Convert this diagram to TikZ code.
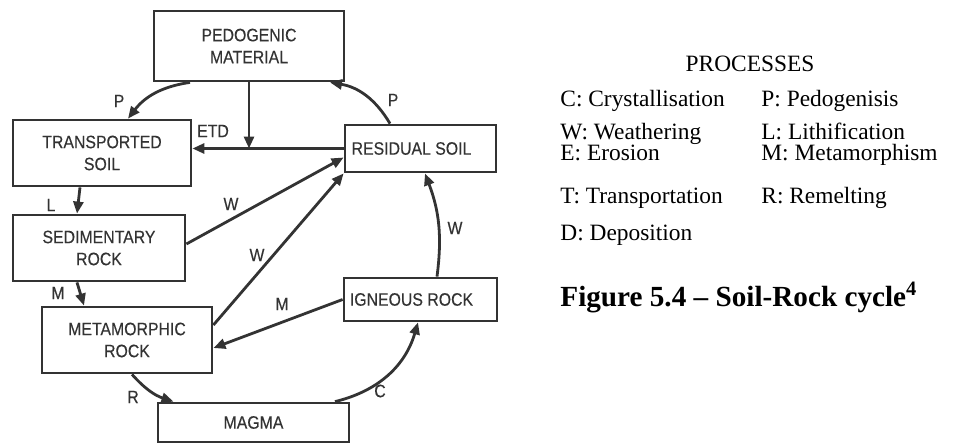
\documentclass[tikz,border=0pt]{standalone}
\usepackage{fontspec}
\setmainfont{Liberation Serif}
\newfontfamily\boxfont{Liberation Sans}[FakeStretch=0.88, FakeBold=0.3]
\usetikzlibrary{arrows.meta, calc}
\definecolor{inkgray}{gray}{0.2}

\begin{document}
\begin{tikzpicture}[x=0.5pt, y=-0.5pt,
    box/.style={draw=inkgray, line width=1.4pt, align=center, text=inkgray, font=\boxfont\fontsize{9}{11}\selectfont, inner sep=0pt},
    flow/.style={draw=inkgray, line width=1.4pt, -{Triangle[length=6pt, width=5pt]}},
    lbl/.style={text=inkgray, font=\boxfont\fontsize{9}{10}\selectfont, inner sep=0pt},
    legend/.style={anchor=base west, font=\fontsize{11.7}{14}\selectfont, inner sep=0pt}]
    \useasboundingbox (0,0) rectangle (957,444);

    % Nodes
    \node (ped) at (249,46) [box, minimum width=95pt, minimum height=35pt] {PEDOGENIC\\MATERIAL};
    \node (trans) at (102,153) [box, minimum width=89pt, minimum height=33pt] {TRANSPORTED\\SOIL};
    \node (resid) at (420.5,148.5) [box, minimum width=75.5pt, minimum height=23.5pt] {\hspace*{-9pt}RESIDUAL SOIL};
    \node (sed) at (99,248) [box, minimum width=86pt, minimum height=33pt] {SEDIMENTARY\\ROCK};
    \node (meta) at (127,340) [box, minimum width=85pt, minimum height=33pt] {METAMORPHIC\\ROCK};
    \node (ign) at (420.5,299.5) [box, minimum width=76.5pt, minimum height=21.5pt] {\hspace*{-9pt}IGNEOUS ROCK};
    \node (magma) at (253.5,422.5) [box, minimum width=95.5pt, minimum height=19.5pt] {MAGMA};

    % Edges
    \draw[flow] ([xshift=-29.5pt]ped.south) to[bend right=22] ([xshift=13pt]trans.north);
    \draw[flow] (ped.south) -- (ped.south |- resid.west);
    \draw[flow] (resid.west) -- (resid.west -| trans.east);
    \draw[flow] ([xshift=-15.25pt]resid.north) to[bend right=25] ([xshift=40.5pt]ped.south);
    \draw[flow] ([xshift=-11pt]trans.south) -- ([xshift=-11pt]sed.north);
    \draw[flow] ([yshift=2pt]sed.east) -- ([yshift=-4.5pt]resid.west);
    \draw[flow] ([yshift=7.5pt]meta.east) -- (resid.south west);
    \draw[flow] (ign.west) -- ([yshift=-4pt]meta.east);
    \draw[flow] ([xshift=8.25pt]ign.north) to[bend right=14] ([xshift=2.25pt]resid.south);
    \draw[flow] ([xshift=-11pt]sed.south) -- ([xshift=-21.5pt]meta.north);
    \draw[flow] ([xshift=2.5pt]meta.south) to[bend right=15] ([xshift=-40pt]magma.north);
    \draw[flow] ([xshift=40.75pt]magma.north) to[bend right=30] ([xshift=-1.25pt]ign.south);

    % Edge labels
    \node[lbl] (pleft) at (119,101) {P};
    \node[lbl] (etd) at (213,131) {ETD};
    \node[lbl] (pright) at (393,100) {P};
    \node[lbl] (lith) at (51,205) {L};
    \node[lbl] (wsed) at (231,204) {W};
    \node[lbl] (wmeta) at (257,255) {W};
    \node[lbl] (wign) at (455,228) {W};
    \node[lbl] (msed) at (58,293) {M};
    \node[lbl] (mign) at (282,304) {M};
    \node[lbl] (remelt) at (133,397) {R};
    \node[lbl] (cryst) at (380,391) {C};

    % Legend
    \node[legend, anchor=base] (processes) at (750,72) {PROCESSES};
    \node[legend] (lc) at (560,106) {C: Crystallisation};
    \node[legend] (lp) at (761,106) {P: Pedogenisis};
    \node[legend] (lw) at (560,139.5) {W: Weathering};
    \node[legend] (ll) at (761,139.5) {L: Lithification};
    \node[legend] (le) at (560,160) {E: Erosion};
    \node[legend] (lm) at (761,160) {M: Metamorphism};
    \node[legend] (lt) at (560,203) {T: Transportation};
    \node[legend] (lr) at (761,203) {R: Remelting};
    \node[legend] (ld) at (560,240) {D: Deposition};
    \node[anchor=base west, inner sep=0pt, font=\bfseries\fontsize{14.6}{17}\selectfont] (caption) at (560,306) {Figure 5.4 – Soil-Rock cycle\textsuperscript{4}};
\end{tikzpicture}
\end{document}
